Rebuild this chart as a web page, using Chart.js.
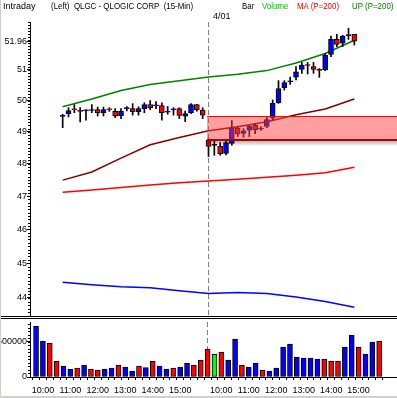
<!DOCTYPE html>
<html>
<head>
<meta charset="utf-8">
<script src="https://cdn.jsdelivr.net/npm/chart.js@4.4.1/dist/chart.umd.min.js"></script>
<style>
  body { margin: 0; background: #fff; }
  #quadro { position: relative; width: 397px; height: 398px; overflow: hidden; font-family: 'Liberation Sans', Arial, sans-serif; }
  .txt { position: absolute; font-size: 9px; line-height: 10px; white-space: nowrap; color: #000; transform-origin: left top; }
  .estreito { transform: scaleX(0.88); }
  #precos { position: absolute; left: 0; top: 0; }
  #divisor { position: absolute; left: 0; top: 316px; width: 397px; height: 1px; border-top: 1px solid #000; border-bottom: 1px solid #000; }
  #volumes { position: absolute; left: 0; top: 319px; }
  #bordaEsq { position: absolute; left: 0; top: 0; width: 1px; height: 398px; background: #d4d0c8; }
  #bordaInf { position: absolute; left: 0; top: 396px; width: 397px; height: 2px; background: #d4d0c8; }
</style>
</head>
<body>
<div id="quadro">
  <canvas id="precos" width="397" height="316"></canvas>
  <div id="divisor"></div>
  <canvas id="volumes" width="397" height="79"></canvas>
  <div id="bordaEsq"></div>
  <div id="bordaInf"></div>
  <div class="txt" style="left:3px; top:1px;">Intraday</div>
  <div class="txt estreito" style="left:51px; top:1px;">(Left)&nbsp; QLGC - QLOGIC CORP&nbsp; (15-Min)</div>
  <div class="txt estreito" style="left:242px; top:1px;">Bar</div>
  <div class="txt estreito" style="left:262px; top:1px; color:#00c800;">Volume</div>
  <div class="txt estreito" style="left:297px; top:1px; color:#ff0000;">MA (P=200)</div>
  <div class="txt estreito" style="left:352px; top:1px; color:#008000;">UP (P=200)</div>
  <div class="txt" style="left:213px; top:11px;">4/01</div>
</div>
<script>
// Horário de cada barra de 15 min (dia anterior e 4/01)
const horarios = [
  '9:45', '10:00', '10:15', '10:30', '10:45', '11:00', '11:15', '11:30', '11:45',
  '12:00', '12:15', '12:30', '12:45', '13:00', '13:15', '13:30', '13:45',
  '14:00', '14:15', '14:30', '14:45', '15:00', '15:15', '15:30', '15:45',
  '9:30', '9:45', '10:00', '10:15', '10:30', '10:45', '11:00', '11:15', '11:30', '11:45',
  '12:00', '12:15', '12:30', '12:45', '13:00', '13:15', '13:30', '13:45',
  '14:00', '14:15', '14:30', '14:45', '15:00', '15:15', '15:30', '15:45'
];

// OHLC
const aberturas = [
  49.49, 49.58, 49.72, 49.67, 49.67, 49.68, 49.71, 49.61, 49.72, 49.65, 49.51, 49.74, 49.74,
  49.64, 49.74, 49.87, 49.83, 49.84, 49.63, 49.70, 49.74, 49.50, 49.61, 49.87, 49.69,
  48.74, 48.57, 48.54, 48.32, 48.63, 49.12, 48.95, 49.05, 49.21, 49.08, 49.17, 49.43, 49.93,
  50.42, 50.61, 50.76, 51.02, 51.17, 51.11, 51.01, 51.00, 51.52, 52.02, 51.89, 52.15, 52.19
];
const maximas = [
  49.56, 49.77, 49.87, 49.77, 49.71, 49.87, 49.79, 49.79, 49.77, 49.74, 49.74, 49.81, 49.90,
  49.80, 49.93, 50.00, 49.97, 49.93, 49.81, 49.77, 49.77, 49.66, 49.90, 49.88, 49.77,
  48.78, 48.71, 48.66, 48.70, 49.36, 49.17, 49.10, 49.20, 49.26, 49.16, 49.46, 50.02, 50.65,
  50.65, 50.77, 51.11, 51.25, 51.25, 51.25, 51.05, 51.55, 52.13, 52.19, 52.16, 52.40, 52.19
];
const minimas = [
  49.13, 49.47, 49.61, 49.31, 49.37, 49.61, 49.50, 49.50, 49.65, 49.45, 49.42, 49.67, 49.53,
  49.53, 49.61, 49.71, 49.74, 49.37, 49.56, 49.53, 49.42, 49.32, 49.58, 49.66, 49.42,
  48.22, 48.26, 48.26, 48.27, 48.58, 48.85, 48.83, 48.85, 48.94, 49.04, 49.13, 49.37, 49.91,
  50.34, 50.53, 50.67, 50.89, 50.87, 50.89, 50.76, 50.98, 51.44, 51.78, 51.78, 52.02, 51.83
];
const fechamentos = [
  49.51, 49.68, 49.70, 49.65, 49.69, 49.70, 49.61, 49.71, 49.70, 49.50, 49.66, 49.76, 49.64,
  49.74, 49.87, 49.77, 49.85, 49.61, 49.65, 49.72, 49.52, 49.58, 49.87, 49.71, 49.53,
  48.54, 48.57, 48.31, 48.66, 49.11, 48.93, 49.03, 49.18, 49.07, 49.12, 49.39, 49.91, 50.39,
  50.59, 50.64, 50.94, 51.16, 51.15, 51.02, 50.99, 51.49, 52.02, 51.85, 52.13, 52.17, 51.96
];
const volumes = [
  722000, 510000, 477000, 222000, 156000, 109000, 127000, 170000, 113000, 99000, 113000, 127000, 170000,
  142000, 85000, 156000, 132000, 222000, 156000, 113000, 127000, 142000, 198000, 170000, 241000,
  396000, 321000, 354000, 241000, 538000, 170000, 142000, 198000, 99000, 85000, 127000, 425000, 467000,
  283000, 269000, 269000, 255000, 255000, 227000, 227000, 425000, 595000, 425000, 326000, 496000, 510000
];

// Linhas de indicador, lidas a cada 5 barras
const barrasLinhas = [0, 5, 10, 15, 20, 25, 30, 35, 40, 45, 50];
const linhaUp = [49.80, 50.05, 50.33, 50.52, 50.65, 50.77, 50.86, 50.98, 51.23, 51.55, 51.99];
const linhaMA = [47.49, 47.74, 48.17, 48.59, 48.82, 49.03, 49.16, 49.32, 49.54, 49.73, 50.05];
const linhaVermelha = [47.12, 47.19, 47.26, 47.34, 47.41, 47.46, 47.52, 47.58, 47.64, 47.72, 47.89];
const linhaAzul = [44.45, 44.38, 44.32, 44.29, 44.21, 44.13, 44.16, 44.13, 44.03, 43.90, 43.74];

// Eixos
const ticksPreco = [44, 45, 46, 47, 48, 49, 50, 51];
const ticksVolume = [0, 500000];
const faixaPreco = [48.73, 49.49];
const inicioFaixa = 24.7;
const inicioDia2 = 25;

const fonte = { family: "'Liberation Sans', Arial, sans-serif", size: 9 };
const xMin = -2.5 / 7;
const xMax = xMin + 367 / 7;

const cores = aberturas.map((o, i) => {
  const c = fechamentos[i];
  return c > o ? 'up' : (c < o ? 'down' : 'flat');
});

// Tracinhos menores no eixo y
const ticksMenores = {
  id: 'ticksMenores',
  afterDraw(chart, args, opts) {
    const s = chart.scales.y;
    const ctx = chart.ctx;
    ctx.save();
    ctx.fillStyle = '#000';
    for (let k = 0; k <= opts.n; k++) {
      const v = opts.de + k * opts.passo;
      const py = Math.round(s.getPixelForValue(v));
      if (py < chart.chartArea.top || py > chart.chartArea.bottom) continue;
      ctx.fillRect(s.right - 2, py, 2, 1);
    }
    ctx.restore();
  }
};

// Linha tracejada separando os dias
const separador = {
  id: 'separador',
  beforeDatasetsDraw(chart) {
    const x = Math.floor(chart.scales.x.getPixelForValue(inicioDia2)) + 0.5;
    const ctx = chart.ctx;
    ctx.save();
    ctx.strokeStyle = '#808080';
    ctx.lineWidth = 1;
    ctx.setLineDash([5, 3]);
    ctx.beginPath();
    ctx.moveTo(x, chart.chartArea.top);
    ctx.lineTo(x, chart.chartArea.bottom);
    ctx.stroke();
    ctx.restore();
  }
};

// Faixa rosa semi-transparente
const faixa = {
  id: 'faixa',
  afterDatasetsDraw(chart) {
    const { x, y } = chart.scales;
    const ctx = chart.ctx;
    const x0 = Math.round(x.getPixelForValue(inicioFaixa));
    const x1 = chart.chartArea.right;
    const yTop = Math.round(y.getPixelForValue(faixaPreco[1]));
    const yBot = Math.round(y.getPixelForValue(faixaPreco[0]));
    ctx.save();
    const sombra = ctx.createLinearGradient(0, yBot, 0, yBot + 6);
    sombra.addColorStop(0, 'rgba(0,0,0,0.35)');
    sombra.addColorStop(1, 'rgba(0,0,0,0)');
    ctx.fillStyle = sombra;
    ctx.fillRect(x0, yBot, x1 - x0, 6);
    ctx.fillStyle = 'rgba(255,64,64,0.5)';
    ctx.fillRect(x0, yTop, x1 - x0, yBot - yTop);
    ctx.fillStyle = '#ff0000';
    ctx.fillRect(x0, yTop, x1 - x0, 1);
    ctx.fillStyle = '#b00000';
    ctx.fillRect(x0, yBot - 1, x1 - x0, 2);
    ctx.restore();
  }
};

function semPadding(s) {
  s.paddingTop = 0;
  s.paddingBottom = 0;
  s.paddingLeft = 0;
  s.paddingRight = 0;
}

function linha(valores, cor) {
  return {
    type: 'line',
    data: barrasLinhas.map((b, i) => ({ x: b, y: valores[i] })),
    borderColor: cor,
    borderWidth: 1.5,
    pointRadius: 0,
    tension: 0,
    order: 3
  };
}

const corCandle = { up: '#0000ff', down: '#ff0000', flat: '#000000' };

new Chart(document.getElementById('precos'), {
  type: 'bar',
  data: {
    datasets: [
      linha(linhaUp, '#008000'),
      linha(linhaMA, '#800000'),
      linha(linhaVermelha, '#ff0000'),
      linha(linhaAzul, '#0000ff'),
      {
        // pavios
        data: maximas.map((h, i) => ({ x: i, y: [minimas[i], h] })),
        backgroundColor: '#000',
        grouped: false,
        barPercentage: 1,
        categoryPercentage: 1,
        maxBarThickness: 1,
        order: 2
      },
      {
        // corpos
        data: aberturas.map((o, i) => ({ x: i, y: [Math.min(o, fechamentos[i]), Math.max(o, fechamentos[i])] })),
        backgroundColor: cores.map(c => corCandle[c]),
        borderColor: '#000',
        borderWidth: 1,
        borderSkipped: false,
        minBarLength: 1,
        grouped: false,
        barPercentage: 1,
        categoryPercentage: 1,
        maxBarThickness: 5,
        order: 1
      }
    ]
  },
  options: {
    responsive: false,
    animation: false,
    devicePixelRatio: 1,
    layout: { padding: { top: 22, left: 0, right: 0, bottom: 0 } },
    plugins: {
      legend: { display: false },
      tooltip: { enabled: false },
      ticksMenores: { de: 43.5, passo: 0.1, n: 92 }
    },
    scales: {
      x: { type: 'linear', min: xMin, max: xMax, display: false },
      y: {
        type: 'logarithmic',
        position: 'left',
        min: 43.49,
        max: 52.61,
        afterBuildTicks: s => {
          s.ticks = ticksPreco.concat([fechamentos[fechamentos.length - 1]]).map(v => ({ value: v }));
        },
        afterFit: s => { s.width = 30; semPadding(s); },
        ticks: { callback: v => String(v), color: '#000', font: fonte, padding: 0 },
        grid: { drawOnChartArea: false, tickLength: 3, color: '#000' },
        border: { color: '#000', width: 1 }
      }
    }
  },
  plugins: [ticksMenores, separador, faixa]
});

const corVolume = { up: '#0000ff', down: '#ff0000', flat: '#00ff00' };

new Chart(document.getElementById('volumes'), {
  type: 'bar',
  data: {
    datasets: [{
      data: volumes.map((v, i) => ({ x: i, y: v })),
      backgroundColor: cores.map(c => corVolume[c]),
      borderColor: '#000',
      borderWidth: 1,
      borderSkipped: false,
      grouped: false,
      barPercentage: 1,
      categoryPercentage: 1,
      maxBarThickness: 5
    }]
  },
  options: {
    responsive: false,
    animation: false,
    devicePixelRatio: 1,
    layout: { padding: { top: 3, left: 0, right: 0, bottom: 0 } },
    plugins: {
      legend: { display: false },
      tooltip: { enabled: false },
      ticksMenores: { de: 0, passo: 50000, n: 16 }
    },
    scales: {
      x: {
        type: 'linear',
        min: xMin,
        max: xMax,
        afterBuildTicks: s => { s.ticks = horarios.map((h, i) => ({ value: i })); },
        afterFit: s => { s.height = 21; semPadding(s); },
        ticks: {
          autoSkip: false,
          maxRotation: 0,
          minRotation: 0,
          color: '#000',
          font: fonte,
          padding: 5,
          callback: v => (horarios[v] && horarios[v].endsWith(':00')) ? horarios[v] : ''
        },
        grid: { drawOnChartArea: false, tickLength: 3, color: '#000' },
        border: { color: '#000', width: 1 }
      },
      y: {
        min: 0,
        max: 779000,
        afterBuildTicks: s => { s.ticks = ticksVolume.map(v => ({ value: v })); },
        afterFit: s => { s.width = 30; semPadding(s); },
        ticks: { callback: v => String(v), color: '#000', font: fonte, padding: 0 },
        grid: { drawOnChartArea: false, tickLength: 3, color: '#000' },
        border: { color: '#000', width: 1 }
      }
    }
  },
  plugins: [ticksMenores, separador]
});
</script>
</body>
</html>
